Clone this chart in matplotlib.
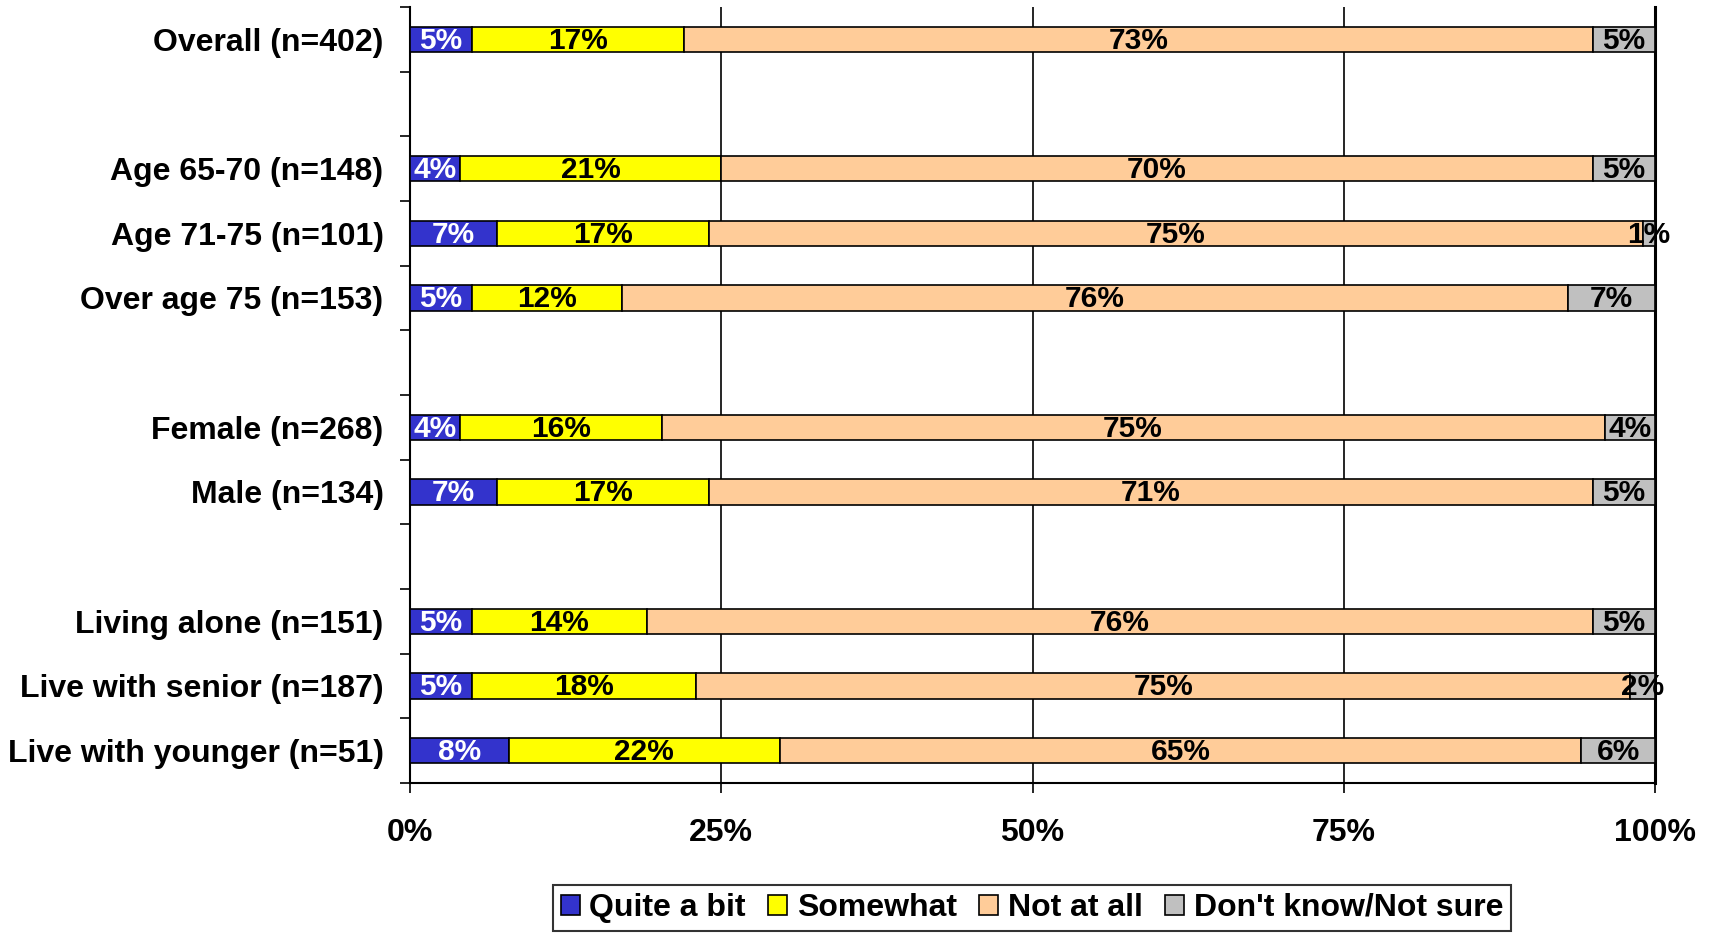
import numpy as np
from matplotlib import pyplot as plt
from matplotlib import font_manager as fm
from matplotlib.patches import Patch

# Data (rows top to bottom, '' = spacer row)
groups = ["Overall (n=402)", "",
          "Age 65-70 (n=148)", "Age 71-75 (n=101)", "Over age 75 (n=153)", "",
          "Female (n=268)", "Male (n=134)", "",
          "Living alone (n=151)", "Live with senior (n=187)", "Live with younger (n=51)"]
quite_a_bit = [5, 0, 4, 7, 5, 0, 4, 7, 0, 5, 5, 8]
somewhat = [17, 0, 21, 17, 12, 0, 16, 17, 0, 14, 18, 22]
not_at_all = [73, 0, 70, 75, 76, 0, 75, 71, 0, 76, 75, 65]
dont_know = [5, 0, 5, 1, 7, 0, 4, 5, 0, 5, 2, 6]

series = ["Quite a bit", "Somewhat", "Not at all", "Don't know/Not sure"]
colors = ["#3333CC", "#FFFF00", "#FFCC99", "#C0C0C0"]
text_colors = ["white", "black", "black", "black"]
tick_labels = ["0%", "25%", "50%", "75%", "100%"]

plt.rcParams['font.family'] = ['Liberation Sans', 'DejaVu Sans']
plt.rcParams['font.weight'] = 'bold'

# condensed font for the legend if it is there
try:
    fm.findfont(fm.FontProperties(family="Liberation Sans Narrow", weight="bold"), fallback_to_default=False)
    leg_family = ["Liberation Sans Narrow"]
    leg_size = 25
except Exception:
    leg_family = ["Liberation Sans"]
    leg_size = 23

fig = plt.figure(figsize=(17.12, 9.35), dpi=100)
ax = fig.add_axes([410 / 1712, 1 - 783 / 935, (1655 - 410) / 1712, (783 - 7) / 935])

data = np.array([quite_a_bit, somewhat, not_at_all, dont_know], dtype=float)
totals = data.sum(axis=0)
totals[totals == 0] = 1
shares = data / totals * 100  # 100% stacked

n = len(groups)
y = np.arange(n)
left = np.zeros(n)
for vals, shr, col, tc in zip(data, shares, colors, text_colors):
    ax.barh(y, shr, left=left, height=0.39, color=col, edgecolor="black", linewidth=1.2, zorder=3)
    for i in range(n):
        if vals[i] > 0:
            ax.text(left[i] + shr[i] / 2, y[i] + 0.02, f"{int(vals[i])}%", ha="center", va="center",
                    fontsize=21.5, fontweight="bold", color=tc, zorder=4)
    left += shr

ax.set_xlim(0, 100)
ax.set_ylim(n - 0.5, -0.5)

# x axis
ax.set_xticks([0, 25, 50, 75, 100])
ax.set_xticklabels(tick_labels, fontsize=23, fontweight="bold")
ax.tick_params(axis="x", direction="out", length=7, width=1.2, pad=18)
for xv in [25, 50, 75]:
    ax.axvline(xv, color="black", linewidth=1.2, zorder=1)

# y axis: ticks at row boundaries, labels at row centres
ax.set_yticks(np.arange(-0.5, n, 1.0))
ax.set_yticklabels([])
ax.tick_params(axis="y", which="major", direction="out", length=7, width=1.2)
ax.set_yticks(y, minor=True)
ax.set_yticklabels(groups, minor=True, fontsize=23, fontweight="bold")
ax.tick_params(axis="y", which="minor", length=0, pad=19)

ax.spines["top"].set_visible(False)
for s in ["left", "right", "bottom"]:
    ax.spines[s].set_linewidth(1.5)
ax.spines["right"].set_linewidth(2.2)

handles = [Patch(facecolor=c, edgecolor="black", linewidth=1.2) for c in colors]
leg = fig.legend(handles, series, loc="center", bbox_to_anchor=(1032 / 1712, 1 - 908 / 935),
                 ncol=4, frameon=True, fancybox=False, handlelength=0.6,
                 handleheight=0.6, handletextpad=0.3, columnspacing=0.7, borderpad=0.25,
                 prop={"family": leg_family, "weight": "bold", "size": leg_size})
leg.get_frame().set_edgecolor("black")
leg.get_frame().set_linewidth(1.5)

fig.savefig("out.png", dpi=100)
